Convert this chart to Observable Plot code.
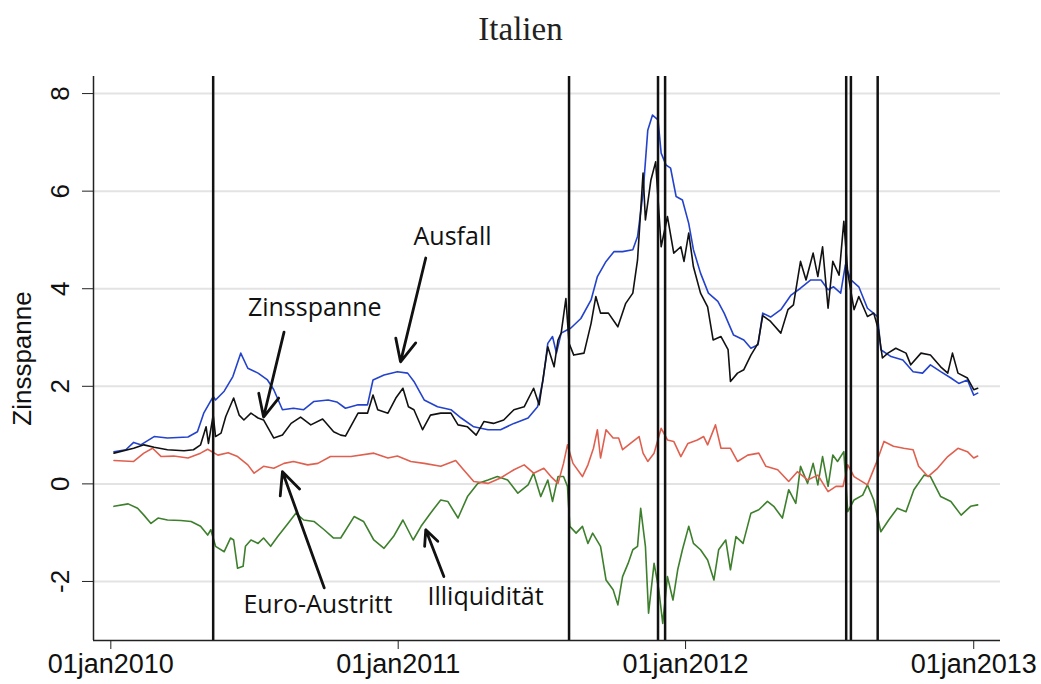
<!DOCTYPE html>
<html><head><meta charset="utf-8">
<script src="https://cdn.jsdelivr.net/npm/d3@7"></script>
<script src="https://cdn.jsdelivr.net/npm/@observablehq/plot@0.6"></script>
<style>
body{margin:0;background:#fff;overflow:hidden;}
#title{height:56px;line-height:58px;text-align:center;font-family:"Liberation Serif","DejaVu Serif",serif;font-size:33px;color:#222;}
</style></head><body>
<div id="title">Italien</div>
<div id="chart"></div>
<script>
// values: [days since 2010-01-01, value]
const zinsspanne = [[4,0.63],[29,0.73],[42,0.80],[55,0.75],[72,0.70],[93,0.68],[105,0.70],[114,0.80],[121,1.17],[124,0.83],[130,1.41],[133,0.97],[140,1.04],[146,1.38],[156,1.76],[163,1.41],[169,1.31],[178,1.45],[187,1.35],[194,1.31],[207,0.94],[218,1.00],[229,1.24],[241,1.37],[254,1.21],[269,1.33],[283,1.07],[292,1.00],[298,0.98],[314,1.45],[326,1.45],[333,1.82],[339,1.52],[352,1.45],[362,1.76],[371,1.96],[378,1.58],[385,1.52],[396,1.11],[406,1.41],[419,1.45],[432,1.45],[441,1.21],[453,1.17],[464,1.00],[474,1.28],[486,1.24],[499,1.31],[512,1.52],[525,1.58],[537,1.96],[544,1.62],[555,2.81],[563,2.40],[568,2.95],[572,3.09],[578,3.80],[582,2.88],[588,2.64],[601,2.68],[610,3.29],[616,3.84],[622,3.50],[632,3.50],[644,3.22],[654,3.70],[663,3.91],[669,4.59],[676,6.37],[679,5.41],[686,6.23],[692,6.60],[699,4.86],[707,5.48],[715,4.73],[724,4.86],[728,4.56],[734,5.14],[740,4.45],[749,3.91],[758,3.63],[765,2.95],[775,3.02],[784,2.75],[787,2.10],[796,2.27],[804,2.34],[813,2.64],[822,2.88],[828,3.45],[838,3.33],[851,3.09],[860,3.57],[867,3.67],[876,4.56],[883,4.18],[892,4.73],[898,4.25],[904,4.86],[911,3.60],[917,4.56],[925,4.28],[931,5.38],[936,4.32],[944,3.57],[950,3.84],[961,3.43],[969,3.50],[975,3.16],[980,2.58],[987,2.68],[997,2.78],[1010,2.68],[1016,2.44],[1029,2.68],[1041,2.64],[1054,2.40],[1063,2.27],[1069,2.68],[1076,2.27],[1088,2.17],[1096,1.93],[1101,1.96]];
const ausfall = [[4,0.66],[19,0.70],[29,0.85],[38,0.80],[55,0.97],[72,0.94],[98,0.96],[110,1.07],[118,1.45],[124,1.62],[130,1.79],[133,1.72],[144,1.90],[155,2.20],[165,2.68],[174,2.37],[187,2.27],[199,2.13],[207,1.93],[218,1.52],[232,1.55],[245,1.52],[258,1.69],[276,1.72],[287,1.68],[298,1.55],[314,1.62],[326,1.62],[333,2.13],[347,2.23],[364,2.30],[377,2.27],[385,2.10],[398,1.72],[415,1.58],[432,1.52],[445,1.35],[461,1.17],[479,1.11],[495,1.11],[512,1.24],[530,1.35],[542,1.58],[549,2.13],[555,2.88],[561,3.02],[566,2.68],[572,3.09],[580,3.16],[584,3.19],[597,3.39],[610,3.77],[618,4.25],[629,4.56],[639,4.76],[650,4.76],[663,4.80],[669,5.07],[676,5.96],[682,7.25],[688,7.56],[695,7.46],[699,6.78],[705,6.54],[711,6.47],[718,5.89],[726,5.82],[734,5.34],[740,4.80],[749,4.32],[759,3.91],[771,3.74],[779,3.50],[791,3.05],[804,2.95],[813,2.78],[822,2.85],[828,3.50],[838,3.42],[851,3.57],[864,3.87],[876,4.01],[889,4.18],[902,4.18],[911,3.98],[918,4.04],[927,3.91],[933,4.49],[940,4.18],[950,4.04],[961,3.60],[974,3.43],[978,2.75],[991,2.61],[1006,2.54],[1019,2.30],[1031,2.27],[1041,2.44],[1054,2.30],[1067,2.17],[1077,2.06],[1088,2.13],[1096,1.82],[1101,1.86]];
const euroAustritt = [[4,0.48],[29,0.46],[42,0.63],[53,0.73],[64,0.56],[80,0.57],[98,0.53],[114,0.63],[123,0.71],[136,0.59],[149,0.64],[161,0.56],[174,0.39],[182,0.22],[194,0.36],[207,0.32],[220,0.42],[232,0.46],[250,0.39],[263,0.42],[279,0.56],[305,0.56],[334,0.63],[352,0.53],[364,0.57],[381,0.46],[398,0.42],[419,0.36],[438,0.48],[448,0.29],[461,0.05],[479,0.01],[495,0.12],[512,0.29],[525,0.39],[537,0.22],[550,0.32],[559,0.15],[568,0.01],[575,0.42],[580,0.80],[587,0.42],[599,0.15],[606,0.39],[613,0.73],[618,1.11],[622,0.53],[629,1.11],[638,0.94],[645,0.94],[650,0.70],[660,0.83],[671,0.97],[676,0.63],[682,0.46],[690,0.63],[699,1.14],[707,0.90],[715,0.87],[724,0.56],[733,0.83],[745,0.90],[753,0.97],[758,0.80],[768,1.21],[775,0.73],[787,0.73],[796,0.46],[809,0.59],[823,0.63],[832,0.36],[847,0.29],[861,0.05],[872,0.25],[885,0.08],[898,0.18],[911,-0.16],[921,-0.05],[930,-0.05],[936,0.39],[944,0.15],[961,-0.02],[972,0.42],[982,0.87],[994,0.77],[1007,0.73],[1019,0.70],[1026,0.36],[1038,0.15],[1050,0.32],[1063,0.56],[1076,0.73],[1088,0.66],[1096,0.53],[1101,0.57]];
const illiquiditaet = [[4,-0.46],[22,-0.41],[34,-0.50],[42,-0.64],[51,-0.81],[60,-0.70],[72,-0.74],[89,-0.75],[102,-0.77],[114,-0.87],[123,-1.05],[127,-0.94],[133,-1.28],[144,-1.39],[152,-1.11],[156,-1.15],[161,-1.73],[168,-1.69],[171,-1.28],[178,-1.15],[187,-1.22],[194,-1.11],[203,-1.28],[212,-1.08],[225,-0.81],[235,-0.60],[245,-0.74],[258,-0.77],[271,-0.94],[283,-1.11],[292,-1.11],[309,-0.67],[321,-0.77],[334,-1.15],[347,-1.32],[359,-1.08],[371,-0.74],[384,-1.15],[394,-0.87],[406,-0.60],[419,-0.33],[428,-0.36],[441,-0.70],[453,-0.26],[466,0.01],[479,0.08],[491,0.15],[504,0.08],[517,-0.19],[530,-0.02],[537,0.22],[546,-0.26],[555,0.08],[561,-0.36],[568,0.15],[575,0.15],[580,-0.05],[583,-0.87],[591,-1.01],[599,-0.87],[606,-1.22],[612,-1.01],[622,-1.28],[629,-1.97],[638,-2.17],[644,-2.48],[650,-1.90],[657,-1.63],[663,-1.35],[669,-1.28],[673,-0.50],[679,-1.28],[683,-2.65],[690,-1.63],[696,-2.17],[701,-2.86],[707,-1.90],[714,-2.38],[720,-1.76],[726,-1.35],[734,-0.87],[740,-1.22],[749,-1.35],[758,-1.56],[766,-1.97],[772,-1.35],[781,-1.15],[787,-1.76],[794,-1.08],[803,-1.22],[813,-0.60],[823,-0.53],[834,-0.36],[842,-0.46],[853,-0.70],[861,-0.12],[870,-0.40],[876,0.36],[885,0.01],[892,0.42],[898,-0.02],[904,0.56],[911,-0.05],[917,0.59],[923,0.46],[931,0.66],[936,-0.57],[944,-0.33],[955,-0.23],[961,-0.02],[969,-0.33],[978,-0.98],[988,-0.74],[999,-0.50],[1010,-0.57],[1020,-0.12],[1033,0.18],[1041,0.15],[1054,-0.26],[1067,-0.36],[1080,-0.64],[1092,-0.46],[1101,-0.43]];

const seriesNames = ["Illiquidität", "Euro-Austritt", "Ausfall", "Zinsspanne"];
const seriesColors = ["#3d7f2c", "#e0604f", "#2443cc", "#111111"];
const eventDates = ["2010-05-11", "2011-08-06", "2011-11-27", "2011-12-06", "2012-07-23", "2012-07-29", "2012-09-01"];
const yTicks = [-2, 0, 2, 4, 6, 8];
const xTickDates = ["2010-01-01", "2011-01-01", "2012-01-01", "2013-01-01"];
const xTickLabels = ["01jan2010", "01jan2011", "01jan2012", "01jan2013"];
// annotations: label, [day, value] of text, arrow start, arrow end
const annLabels = ["Zinsspanne", "Ausfall", "Euro-Austritt", "Illiquidität"];
const annText = [[259, 3.61], [434, 5.06], [263, -2.48], [476, -2.32]];
const annFrom = [[220, 3.11], [400, 4.63], [271, -2.13], [423, -1.90]];
const annTo = [[194, 1.37], [368, 2.50], [218, 0.25], [400, -0.94]];

const toDate = d => new Date(Date.UTC(2010, 0, 1 + d));
const rows = (arr, s) => arr.map(([d, v]) => ({date: toDate(d), value: v, series: s}));
const data = [
  ...rows(illiquiditaet, "Illiquidität"),
  ...rows(euroAustritt, "Euro-Austritt"),
  ...rows(ausfall, "Ausfall"),
  ...rows(zinsspanne, "Zinsspanne")
];
const tickDates = xTickDates.map(s => new Date(s + "T00:00:00Z"));
const ann = annLabels.map((l, i) => ({
  label: l,
  tx: toDate(annText[i][0]), ty: annText[i][1],
  x1: toDate(annFrom[i][0]), y1: annFrom[i][1],
  x2: toDate(annTo[i][0]), y2: annTo[i][1]
}));

const chart = Plot.plot({
  width: 1041, height: 628,
  marginLeft: 93, marginRight: 41, marginTop: 20, marginBottom: 44,
  style: {fontFamily: "'Liberation Sans', Arial, sans-serif", background: "white", color: "#111", overflow: "visible"},
  x: {type: "utc", domain: [toDate(-22), toDate(1130)]},
  y: {domain: [-3.21, 8.35]},
  color: {domain: seriesNames, range: seriesColors},
  marks: [
    Plot.gridY(yTicks, {stroke: "#e3e3e3", strokeOpacity: 1, strokeWidth: 2}),
    Plot.line(data, {x: "date", y: "value", z: "series", stroke: "series", strokeWidth: 1.6}),
    Plot.ruleX(eventDates.map(s => new Date(s + "T00:00:00Z")), {stroke: "#111", strokeWidth: 2.5}),
    Plot.arrow(ann, {x1: "x1", y1: "y1", x2: "x2", y2: "y2", stroke: "#111", strokeWidth: 2.8, headLength: 13, headAngle: 50}),
    Plot.text(ann, {x: "tx", y: "ty", text: "label", fontSize: 25, fill: "#111", fontFamily: "'Open Sans', sans-serif"}),
    Plot.ruleX([toDate(-22)], {stroke: "#222", strokeWidth: 1.5}),
    Plot.ruleY([-3.21], {stroke: "#222", strokeWidth: 1.5}),
    Plot.axisY({ticks: yTicks, tickFormat: d => String(d), tickSize: 11, tickPadding: 14, tickRotate: -90, fontSize: 26, label: null, stroke: "#222"}),
    Plot.axisX({ticks: tickDates, tickFormat: d => xTickLabels[tickDates.findIndex(t => +t === +d)], tickSize: 9, tickPadding: 4, fontSize: 27, label: null, stroke: "#222"}),
    Plot.text(["Zinsspanne"], {frameAnchor: "left", dx: -71, rotate: -90, textAnchor: "middle", fontSize: 26, fill: "#111"})
  ]
});
document.getElementById("chart").append(chart);
</script>
</body></html>
